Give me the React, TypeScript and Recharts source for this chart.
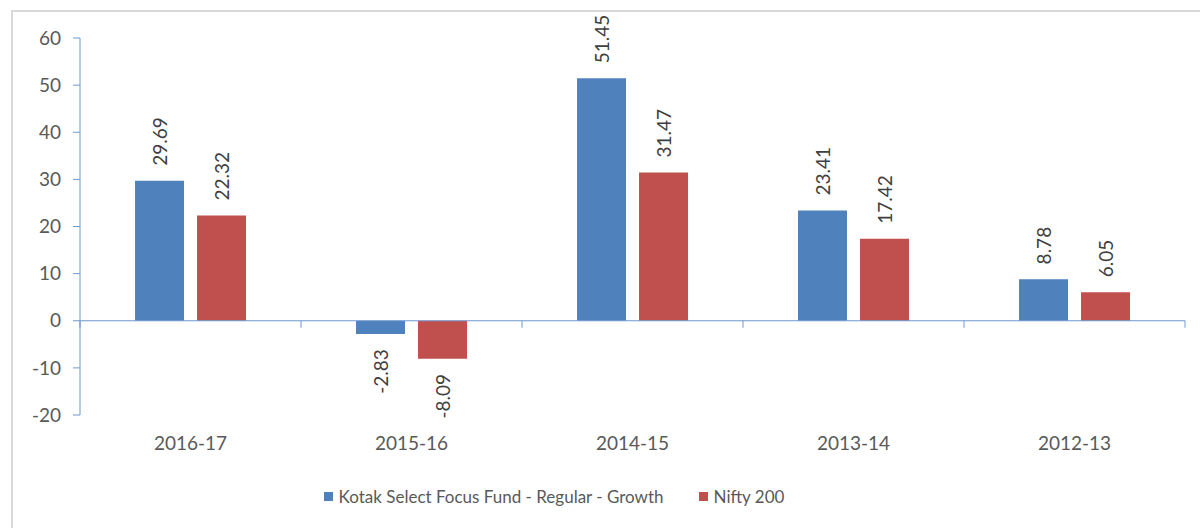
import React from 'react';
import { BarChart, Bar, XAxis, YAxis, ReferenceLine, Legend, LabelList } from 'recharts';

const categories = ['2016-17', '2015-16', '2014-15', '2013-14', '2012-13'];
const fundReturns = [29.69, -2.83, 51.45, 23.41, 8.78];
const niftyReturns = [22.32, -8.09, 31.47, 17.42, 6.05];
const yTicks = [-20, -10, 0, 10, 20, 30, 40, 50, 60];
const seriesNames = ['Kotak Select Focus Fund - Regular - Growth', 'Nifty 200'];

const data = categories.map((year, i) => ({
  year,
  fund: fundReturns[i],
  nifty: niftyReturns[i],
}));

const FONT = 'Lato, "Open Sans", sans-serif';
const AXIS_BLUE = '#6e98d0';
const TEXT_GRAY = '#595959';

// rotated value label, above positive bars and below negative ones
const RotatedLabel = (props: any) => {
  const vb = props.viewBox || props;
  const { x, y, width, height } = vb;
  const value = Number(props.value);
  const cx = x + width / 2;
  const top = Math.min(y, y + height);
  const bottom = Math.max(y, y + height);
  const neg = value < 0;
  const ay = neg ? bottom + 15 : top - 15;
  return (
    <text
      x={cx}
      y={ay}
      transform={`rotate(-90, ${cx}, ${ay})`}
      textAnchor={neg ? 'end' : 'start'}
      dominantBaseline="central"
      fill="#404040"
      fontSize={19}
      fontFamily={FONT}
    >
      {value.toFixed(2)}
    </text>
  );
};

// zero line with tick marks at the category boundaries
const ZeroAxis = (props: any) => {
  const { x1, x2, y1 } = props;
  const n = categories.length;
  const step = (x2 - x1) / n;
  const marks = [];
  for (let i = 0; i <= n; i++) {
    const tx = x1 + i * step;
    marks.push(<line key={i} x1={tx} x2={tx} y1={y1} y2={y1 + 7} stroke={AXIS_BLUE} strokeWidth={1} />);
  }
  return (
    <g>
      <line x1={x1} x2={x2} y1={y1} y2={y1} stroke={AXIS_BLUE} strokeWidth={1} />
      {marks}
    </g>
  );
};

const LegendContent = (props: any) => {
  const items = props.payload || [];
  return (
    <div style={{ display: 'flex', justifyContent: 'center', alignItems: 'center', height: 24, fontFamily: FONT, fontSize: 17, color: TEXT_GRAY }}>
      {items.map((it: any, i: number) => (
        <div key={i} style={{ display: 'flex', alignItems: 'center', marginLeft: i ? 35 : 0 }}>
          <span style={{ width: 9, height: 9, background: it.color, display: 'inline-block', marginRight: 6 }} />
          <span>{it.value}</span>
        </div>
      ))}
    </div>
  );
};

export default function App() {
  return (
    <div style={{ position: 'absolute', left: 0, top: 0, width: 1200, height: 528, background: '#fff', overflow: 'hidden' }}>
      <div style={{ position: 'absolute', left: 11, top: 10, width: 1200, height: 540, border: '2px solid #d9d9d9', boxSizing: 'border-box' }} />
      <div style={{ position: 'absolute', left: 0, top: 0 }}>
        <BarChart
          width={1200}
          height={528}
          data={data}
          margin={{ top: 38, right: 15, bottom: 39, left: 0 }}
          barCategoryGap="24.9%"
          barGap={13}
        >
          <XAxis
            dataKey="year"
            axisLine={false}
            tickLine={false}
            tickSize={0}
            tickMargin={22}
            height={50}
            tick={{ fill: TEXT_GRAY, fontSize: 19, fontFamily: FONT }}
          />
          <YAxis
            domain={[-20, 60]}
            ticks={yTicks}
            width={80}
            interval={0}
            axisLine={{ stroke: AXIS_BLUE }}
            tickLine={{ stroke: AXIS_BLUE }}
            tickSize={7}
            tickMargin={12}
            tick={{ fill: TEXT_GRAY, fontSize: 19, fontFamily: FONT }}
          />
          <ReferenceLine y={0} shape={<ZeroAxis />} />
          <Legend
            content={<LegendContent />}
            wrapperStyle={{ top: 484, left: 0, width: 1108, height: 24 }}
          />
          <Bar dataKey="fund" name={seriesNames[0]} fill="#4f81bd" isAnimationActive={false}>
            <LabelList dataKey="fund" content={<RotatedLabel />} />
          </Bar>
          <Bar dataKey="nifty" name={seriesNames[1]} fill="#c0504d" isAnimationActive={false}>
            <LabelList dataKey="nifty" content={<RotatedLabel />} />
          </Bar>
        </BarChart>
      </div>
    </div>
  );
}
